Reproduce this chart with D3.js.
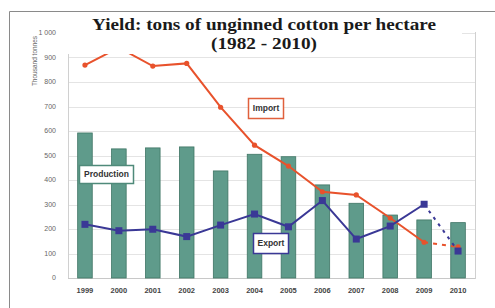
<!DOCTYPE html>
<html>
<head>
<meta charset="utf-8">
<script src="https://cdn.jsdelivr.net/npm/d3@7"></script>
<style>
  body { margin: 0; background: #fff; }
  svg { display: block; }
  .tickLabel { font-family: "Liberation Sans", Arial, sans-serif; font-size: 7px; fill: #666; }
  .yearLabel { font-family: "Liberation Sans", Arial, sans-serif; font-size: 7.5px; fill: #444; font-weight: bold; }
  .boxLabel { font-family: "Liberation Sans", Arial, sans-serif; font-size: 8.5px; font-weight: bold; fill: #333; }
</style>
</head>
<body>
<script>

var years = ["1999","2000","2001","2002","2003","2004","2005","2006","2007","2008","2009","2010"];
var production = [592, 527, 531, 535, 437, 505, 495, 380, 305, 257, 237, 226];
var imports = [869, 940, 865, 876, 697, 542, 457, 352, 339, 245, 146, 127];
var exports = [219, 193, 199, 169, 216, 261, 209, 316, 159, 212, 301, 110];
var yTicks = [0, 100, 200, 300, 400, 500, 600, 700, 800, 900, 1000];

var width = 495, height = 308;

var svg = d3.select("body").append("svg")
  .attr("width", width)
  .attr("height", height);

// outer frame (top + left)
svg.append("path")
  .attr("d", "M9.5,308V11.5H495")
  .attr("fill", "none")
  .attr("stroke", "#8a8a8a")
  .attr("stroke-width", 1);

var x = d3.scaleBand().domain(years).range([68, 475]).paddingInner(0.57).paddingOuter(0.285);
var y = d3.scaleLinear().domain([0, 1000]).range([278, 33]);

var cx = function(d, i){ return x(years[i]) + x.bandwidth() / 2; };

// grid
svg.append("g").selectAll("line").data(yTicks).enter().append("line")
  .attr("x1", 68).attr("x2", 475)
  .attr("y1", function(d){ return Math.round(y(d)) + 0.5; })
  .attr("y2", function(d){ return Math.round(y(d)) + 0.5; })
  .attr("stroke", function(d){ return d === 0 ? "#c8c8c8" : "#e4e4e4"; })
  .attr("stroke-width", 1);

// plot borders (left + right)
svg.append("line").attr("x1", 68.5).attr("x2", 68.5).attr("y1", 33).attr("y2", 278)
  .attr("stroke", "#d0d0d0");
svg.append("line").attr("x1", 475.5).attr("x2", 475.5).attr("y1", 32).attr("y2", 279)
  .attr("stroke", "#d0d0d0");

// y tick labels
svg.append("g").selectAll("text").data(yTicks).enter().append("text")
  .attr("class", "tickLabel")
  .attr("x", 56)
  .attr("y", function(d){ return y(d); })
  .attr("dy", "0.35em")
  .attr("text-anchor", "end")
  .text(function(d){ return d === 1000 ? "1 000" : d; });

// y label
svg.append("text")
  .attr("class", "tickLabel")
  .attr("transform", "translate(37,61) rotate(-90)")
  .attr("text-anchor", "middle")
  .style("font-size", "6.5px")
  .text("Thousand tonnes");

// x labels
svg.append("g").selectAll("text").data(years).enter().append("text")
  .attr("class", "yearLabel")
  .attr("x", function(d){ return x(d) + x.bandwidth() / 2; })
  .attr("y", 293)
  .attr("text-anchor", "middle")
  .text(function(d){ return d; });

// bars
svg.append("g").selectAll("rect").data(production).enter().append("rect")
  .attr("x", function(d, i){ return x(years[i]); })
  .attr("y", function(d){ return y(d); })
  .attr("width", x.bandwidth())
  .attr("height", function(d){ return y(0) - y(d); })
  .attr("fill", "#5f9b8b")
  .attr("stroke", "#3f7565")
  .attr("stroke-width", 0.8);

// lines
var solid = d3.line().x(function(d){ return d[0]; }).y(function(d){ return y(d[1]); });

function drawSeries(values, color, width, dash){
  var pts = values.map(function(v, i){ return [cx(v, i), v]; });
  svg.append("path")
    .attr("d", solid(pts.slice(0, pts.length - 1)))
    .attr("fill", "none").attr("stroke", color).attr("stroke-width", width);
  svg.append("path")
    .attr("d", solid(pts.slice(pts.length - 2)))
    .attr("fill", "none").attr("stroke", color).attr("stroke-width", width)
    .attr("stroke-dasharray", dash);
  return pts;
}

var impPts = drawSeries(imports, "#e8522c", 2, "4,5");
var expPts = drawSeries(exports, "#3a3896", 2, "3,5");

svg.append("g").selectAll("circle").data(impPts).enter().append("circle")
  .attr("cx", function(d){ return d[0]; })
  .attr("cy", function(d){ return y(d[1]); })
  .attr("r", 2.6)
  .attr("fill", "#e8522c");

svg.append("g").selectAll("rect").data(expPts).enter().append("rect")
  .attr("x", function(d){ return d[0] - 3.5; })
  .attr("y", function(d){ return y(d[1]) - 3.5; })
  .attr("width", 7).attr("height", 7)
  .attr("fill", "#3a3896");

// title with white background box
svg.append("rect")
  .attr("x", 66).attr("y", 14).attr("width", 396).attr("height", 40)
  .attr("fill", "#fff");

var title = svg.append("text")
  .attr("text-anchor", "middle")
  .style("font-family", "'Liberation Serif', 'DejaVu Serif', serif")
  .style("font-weight", "bold")
  .style("font-size", "16px")
  .attr("fill", "#1a1a1a");
title.append("tspan").attr("x", 264).attr("y", 30)
  .attr("textLength", 344).attr("lengthAdjust", "spacingAndGlyphs")
  .text("Yield: tons of unginned cotton per hectare");
title.append("tspan").attr("x", 264).attr("y", 49)
  .attr("textLength", 106).attr("lengthAdjust", "spacingAndGlyphs")
  .text("(1982 - 2010)");

// series label boxes
function labelBox(x0, y0, w, h, color, txt){
  svg.append("rect")
    .attr("x", x0 + 0.5).attr("y", y0 + 0.5).attr("width", w).attr("height", h)
    .attr("fill", "#fff").attr("stroke", color).attr("stroke-width", 1.5);
  svg.append("text")
    .attr("class", "boxLabel")
    .attr("x", x0 + w / 2 + 0.5).attr("y", y0 + h / 2 + 0.5)
    .attr("dy", "0.35em")
    .attr("text-anchor", "middle")
    .text(txt);
}

labelBox(79, 165, 54, 18, "#4f8a7a", "Production");
labelBox(248, 98, 35, 20, "#e0603c", "Import");
labelBox(253, 233, 35, 20, "#3a3896", "Export");

</script>
</body>
</html>
